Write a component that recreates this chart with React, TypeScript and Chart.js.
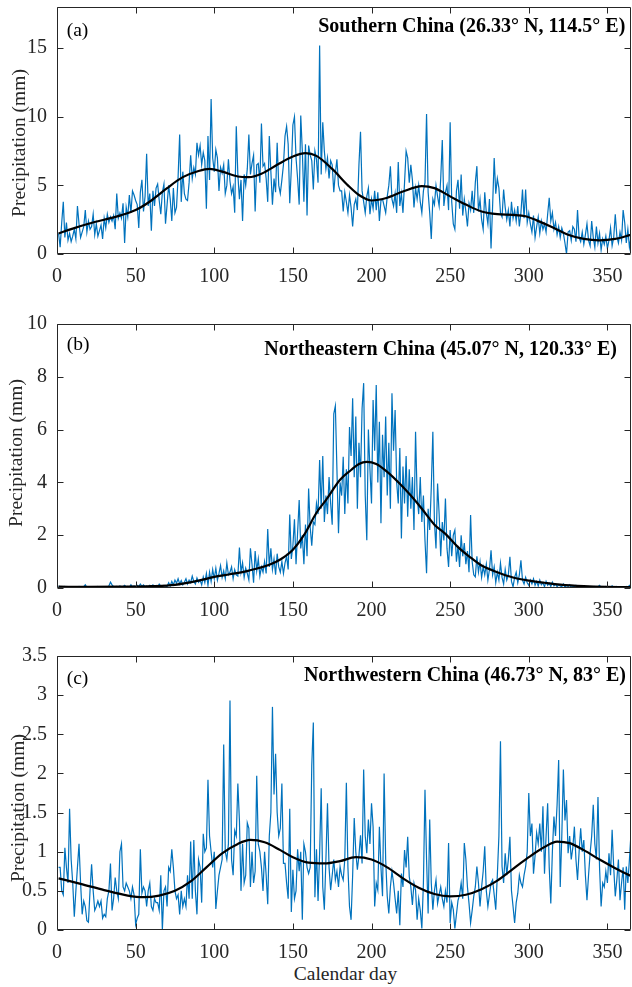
import React, { useEffect, useRef } from "react";
import { Chart, registerables } from "chart.js";

Chart.register(...registerables);

// ---------- data ----------
const dayCount = 365;
const calendarDays: number[] = Array.from({ length: dayCount }, (_, i) => i + 1);
const xTicks = [0, 50, 100, 150, 200, 250, 300, 350];

const southTicks = [0, 5, 10, 15];
const northeastTicks = [0, 2, 4, 6, 8, 10];
const northwestTicks = [0, 0.5, 1, 1.5, 2, 2.5, 3, 3.5];

// (a) Southern China daily precipitation
const southValues = [
  1.5, 0.5, 2.3, 3.8, 1.2, 2.3, 1.0, 1.5, 0.9, 1.3,
  1.8, 1.1, 3.5, 2.2, 1.2, 1.6, 2.0, 3.2, 1.6, 2.4,
  1.8, 2.0, 2.9, 1.4, 2.2, 1.3, 1.7, 2.1, 1.1, 2.6,
  1.9, 2.9, 2.3, 2.7, 2.4, 2.8, 1.8, 4.4, 2.6, 3.0,
  2.6, 3.7, 0.8, 3.4, 2.7, 4.3, 3.0, 4.6, 4.3, 3.9,
  3.6, 1.9, 4.5, 5.4, 3.1, 4.2, 7.3, 3.5, 4.4, 1.7,
  4.6, 3.5, 4.8, 5.1, 3.9, 2.9, 4.5, 5.1, 2.2, 3.6,
  5.0, 4.0, 2.4, 4.8, 3.0, 3.4, 5.6, 8.7, 3.8, 6.0,
  4.4, 4.0, 3.9, 5.2, 7.2, 5.5, 6.3, 5.8, 8.1, 7.2,
  7.9, 6.5, 7.4, 6.8, 3.3, 8.6, 5.4, 11.3, 7.0, 6.0,
  7.6, 7.0, 4.6, 6.3, 5.9, 6.5, 4.4, 5.0, 6.9, 5.3,
  4.4, 4.9, 3.0, 9.3, 5.8, 4.0, 5.4, 2.4, 5.8, 5.0,
  6.2, 8.7, 5.8, 6.6, 7.2, 3.1, 6.5, 6.6, 5.2, 9.5,
  6.4, 6.6, 5.5, 3.8, 8.6, 6.0, 3.6, 5.5, 4.5, 8.1,
  5.0, 4.4, 5.4, 6.5, 8.6, 9.3, 8.0, 3.7, 6.2, 9.4,
  10.0, 7.0, 5.5, 3.6, 10.1, 7.5, 3.8, 8.0, 2.8, 7.9,
  7.2, 6.8, 4.7, 7.5, 6.9, 5.2, 15.2, 5.8, 9.6, 7.5,
  6.2, 7.0, 5.5, 6.8, 6.5, 4.5, 5.9, 6.9, 5.0, 4.6,
  4.6, 3.1, 4.5, 3.8, 3.0, 4.3, 3.4, 2.0, 3.6, 4.0,
  3.2, 6.5, 8.9, 4.6, 3.8, 3.0, 4.2, 4.8, 2.9, 4.0,
  3.3, 4.6, 3.2, 4.5, 2.4, 3.9, 4.0, 3.5, 3.0, 4.2,
  5.0, 6.4, 4.0, 3.5, 4.4, 3.0, 6.7, 3.5, 4.4, 3.0,
  5.2, 7.5, 7.0, 5.2, 6.5, 5.4, 3.4, 4.8, 4.0, 5.0,
  3.8, 3.0, 4.6, 5.2, 10.2, 4.5, 3.0, 1.1, 4.0, 3.6,
  5.0, 4.2, 3.5, 5.5, 8.3, 3.5, 4.5, 5.0, 3.2, 9.6,
  3.8, 2.2, 1.8, 4.6, 5.4, 3.3, 5.8, 2.8, 4.0, 3.1,
  2.0, 3.7, 3.2, 4.6, 3.0, 5.2, 6.4, 3.1, 4.0, 2.5,
  1.8, 4.5, 3.0, 2.2, 4.0, 0.4, 3.5, 7.0, 4.4, 5.5,
  4.8, 3.0, 2.7, 4.7, 3.4, 2.5, 3.2, 2.0, 3.8, 2.6,
  3.2, 2.4, 3.5, 2.0, 3.0, 4.7, 2.6, 4.7, 2.3, 3.0,
  2.2, 1.6, 2.8, 1.2, 2.0, 2.7, 1.5, 2.4, 1.8, 2.2,
  1.6, 2.9, 4.1, 2.4, 3.0, 1.8, 2.3, 1.4, 2.0, 1.2,
  1.9, 1.5, 0.8, 0.0, 1.6, 1.7, 1.0, 2.0, 1.8, 0.9,
  3.2, 1.2, 0.9, 1.6, 0.7, 1.4, 2.2, 1.0, 0.6, 2.4,
  1.2, 0.5, 2.0, 0.8, 1.5, 0.3, 1.1, 0.7, 1.3, 0.4,
  1.0, 1.9, 0.6, 1.2, 2.9, 1.3, 0.8, 1.6, 1.0, 3.2,
  2.3, 0.8, 1.8, 0.5, 1.2,
];
const southSmoothDays = [1, 10, 20, 30, 40, 50, 60, 70, 80, 90, 97, 105, 115, 122, 130, 140, 150, 158, 165, 175, 185, 192, 200, 210, 220, 232, 240, 250, 260, 270, 280, 290, 298, 305, 315, 325, 335, 345, 355, 365];
const southSmoothValues = [1.5, 1.85, 2.2, 2.5, 2.8, 3.2, 3.9, 4.8, 5.6, 6.05, 6.2, 6.0, 5.65, 5.6, 5.85, 6.5, 7.1, 7.35, 7.15, 6.2, 5.0, 4.3, 3.9, 4.1, 4.55, 4.95, 4.8, 4.2, 3.6, 3.1, 2.9, 2.85, 2.75, 2.45, 1.95, 1.4, 1.1, 1.0, 1.1, 1.4];

// (b) Northeastern China daily precipitation
const northeastValues = [
  0.08, 0.04, 0.05, 0.02, 0.06, 0.03, 0.05, 0.02, 0.04, 0.03,
  0.05, 0.02, 0.04, 0.06, 0.03, 0.02, 0.05, 0.12, 0.03, 0.04,
  0.02, 0.05, 0.03, 0.04, 0.02, 0.06, 0.03, 0.05, 0.02, 0.04,
  0.05, 0.03, 0.08, 0.22, 0.12, 0.05, 0.03, 0.06, 0.04, 0.08,
  0.03, 0.05, 0.10, 0.04, 0.06, 0.03, 0.12, 0.05, 0.08, 0.04,
  0.10, 0.05, 0.15, 0.06, 0.12, 0.04, 0.08, 0.03, 0.10, 0.06,
  0.12, 0.05, 0.09, 0.04, 0.15, 0.07, 0.05, 0.10, 0.08, 0.06,
  0.20, 0.08, 0.25, 0.12, 0.30, 0.18, 0.35, 0.15, 0.28, 0.12,
  0.22, 0.35, 0.15, 0.30, 0.20, 0.45, 0.25, 0.15, 0.38, 0.22,
  0.30, 0.12, 0.42, 0.20, 0.55, 0.10, 0.60, 0.25, 0.70, 0.35,
  0.75, 0.30, 0.55, 0.85, 0.40, 0.65, 0.35, 0.95, 0.50, 0.60,
  0.80, 0.35, 0.70, 0.50, 0.45, 1.53, 0.60, 0.95, 0.40, 0.75,
  0.55, 0.30, 1.50, 0.90, 0.20, 1.40, 0.65, 1.10, 0.45, 0.80,
  0.60, 1.00, 0.55, 2.23, 0.80, 1.50, 0.70, 1.10, 0.50, 1.30,
  0.80, 0.60, 1.00, 0.55, 0.95, 1.20, 0.70, 2.78, 1.10, 1.60,
  2.60, 0.90, 2.10, 3.33, 1.50, 2.00, 0.90, 2.40, 1.20, 3.77,
  2.30, 1.60, 2.50, 2.40, 3.20, 2.80, 4.85, 3.00, 5.00, 2.50,
  3.50, 2.80, 4.20, 3.20, 2.40, 6.60, 6.90, 4.50, 2.07, 4.00,
  3.50, 4.97, 2.80, 4.50, 3.20, 6.10, 5.00, 7.19, 4.20, 6.50,
  3.00, 5.50, 4.20, 6.80, 7.76, 3.50, 1.81, 6.00, 4.50, 3.20,
  7.12, 5.20, 7.69, 4.00, 6.30, 2.45, 5.80, 4.20, 6.50, 3.50,
  5.50, 3.00, 7.38, 5.20, 6.74, 4.00, 3.20, 5.30, 1.88, 4.60,
  3.20, 5.00, 2.70, 4.50, 3.00, 4.20, 2.20, 5.92, 3.50, 2.80,
  4.20, 2.50, 3.50, 1.80, 0.56, 3.00, 2.20, 3.80, 5.92, 2.50,
  1.50, 3.96, 2.80, 1.20, 2.50, 1.80, 3.39, 1.50, 0.80, 2.20,
  1.20, 2.00, 2.19, 1.00, 1.60, 0.80, 2.00, 1.20, 1.70, 0.90,
  1.40, 0.60, 2.76, 1.00, 0.50, 0.42, 1.20, 0.60, 1.00, 0.40,
  0.80, 0.50, 0.90, 0.30, 0.70, 1.43, 0.50, 0.80, 0.20, 0.60,
  0.30, 0.94, 0.40, 0.15, 0.70, 0.30, 0.50, 1.18, 0.25, 0.05,
  0.40, 0.60, 0.20, 0.50, 1.05, 0.30, 0.15, 0.40, 0.20, 0.10,
  0.30, 0.15, 0.35, 0.10, 0.25, 0.08, 0.30, 0.12, 0.20, 0.05,
  0.25, 0.10, 0.18, 0.06, 0.22, 0.08, 0.15, 0.05, 0.12, 0.08,
  0.05, 0.15, 0.03, 0.10, 0.06, 0.12, 0.02, 0.08, 0.04, 0.10,
  0.03, 0.06, 0.02, 0.08, 0.04, 0.05, 0.02, 0.06, 0.03, 0.05,
  0.02, 0.06, 0.03, 0.05, 0.10, 0.02, 0.04, 0.03, 0.06, 0.02,
  0.05, 0.03, 0.08, 0.02, 0.04, 0.06, 0.03, 0.05, 0.02, 0.04,
  0.03, 0.06, 0.02, 0.10, 0.04,
];
const northeastSmoothDays = [1, 20, 40, 60, 75, 90, 100, 110, 122, 135, 142, 150, 157, 165, 171, 180, 187, 192, 197, 203, 210, 218, 225, 232, 240, 247, 255, 262, 270, 280, 290, 300, 310, 320, 335, 350, 365];
const northeastSmoothValues = [0.05, 0.04, 0.05, 0.07, 0.12, 0.28, 0.42, 0.52, 0.66, 0.88, 1.08, 1.45, 2.0, 2.85, 3.33, 4.1, 4.47, 4.7, 4.78, 4.7, 4.4, 3.95, 3.5, 3.0, 2.4, 2.05, 1.55, 1.2, 0.85, 0.6, 0.4, 0.28, 0.2, 0.13, 0.07, 0.04, 0.03];

// (c) Northwestern China daily precipitation
const northwestValues = [
  0.80, 0.80, 0.50, 0.45, 1.05, 0.80, 0.60, 1.55, 0.90, 0.60,
  0.17, 0.50, 0.80, 1.10, 0.60, 0.20, 0.37, 0.30, 0.12, 0.10,
  0.50, 0.84, 0.50, 0.25, 0.30, 0.37, 0.30, 0.37, 0.15, 0.20,
  0.17, 0.40, 0.50, 0.85, 0.25, 0.40, 0.67, 0.50, 0.40, 1.00,
  1.10, 0.55, 0.50, 0.60, 0.55, 0.50, 0.40, 0.55, 0.45, 0.07,
  0.15, 0.20, 1.03, 0.47, 0.55, 0.50, 0.30, 0.50, 0.60, 0.30,
  0.25, 0.40, 0.35, 0.35, 0.25, 0.70, 0.00, 0.50, 0.55, 0.30,
  0.80, 0.75, 1.03, 0.80, 0.50, 0.40, 0.45, 0.20, 0.50, 0.30,
  0.40, 0.30, 0.70, 0.40, 1.13, 0.40, 1.15, 0.50, 0.20, 0.90,
  0.80, 0.35, 1.23, 1.00, 1.05, 1.92, 1.20, 1.00, 0.80, 1.00,
  0.27, 0.50, 0.70, 0.80, 0.90, 2.37, 1.00, 0.90, 1.10, 2.93,
  0.90, 0.70, 1.27, 1.20, 1.87, 1.40, 0.50, 1.10, 0.60, 0.70,
  1.37, 1.30, 0.55, 1.00, 0.60, 0.75, 1.97, 1.10, 1.00, 0.80,
  0.50, 1.00, 0.70, 0.33, 1.20, 1.50, 2.85, 1.73, 2.25, 1.50,
  1.20, 1.30, 1.87, 0.85, 0.85, 0.60, 0.40, 1.55, 0.23, 0.77,
  0.40, 0.50, 1.03, 0.75, 1.00, 0.13, 1.10, 1.00, 0.80, 0.72,
  0.80, 2.10, 2.65, 0.42, 1.03, 0.37, 0.98, 1.81, 0.55, 0.26,
  0.90, 1.62, 0.80, 0.51, 0.70, 0.90, 0.64, 0.75, 0.55, 0.81,
  0.70, 0.64, 0.90, 1.88, 0.80, 0.30, 0.13, 0.70, 1.43, 1.00,
  0.77, 0.95, 1.21, 0.85, 2.05, 1.20, 0.98, 1.41, 1.10, 1.62,
  1.32, 0.30, 0.60, 0.51, 1.32, 0.80, 0.43, 2.00, 0.90, 0.43,
  0.21, 0.55, 0.75, 0.60, 0.40, 0.21, 0.50, 0.06, 0.72, 0.55,
  1.02, 0.80, 1.19, 0.68, 0.55, 0.32, 0.60, 0.51, 0.13, 0.40,
  0.25, 0.02, 0.60, 1.79, 0.90, 0.21, 1.41, 0.60, 0.26, 0.50,
  0.64, 0.34, 0.45, 0.55, 0.40, 0.30, 0.50, 0.35, 1.11, 0.09,
  0.35, 0.26, 0.02, 0.20, 0.38, 0.45, 0.60, 0.40, 1.11, 0.90,
  0.55, 0.34, 0.09, 0.25, 0.43, 0.55, 0.81, 0.60, 0.30, 0.55,
  0.75, 1.07, 0.50, 0.30, 0.45, 0.60, 0.64, 0.45, 0.26, 0.70,
  1.20, 2.41, 0.81, 0.60, 0.98, 0.70, 0.90, 1.19, 0.50, 0.30,
  0.09, 0.35, 0.47, 0.70, 0.60, 0.55, 0.70, 0.81, 1.00, 1.75,
  1.20, 1.36, 0.72, 0.95, 1.24, 1.10, 1.36, 1.00, 1.58, 0.72,
  1.20, 1.62, 0.80, 0.34, 1.00, 1.45, 1.20, 1.60, 2.17, 0.55,
  1.20, 2.05, 1.40, 1.66, 0.98, 1.20, 0.90, 1.05, 1.32, 0.90,
  0.64, 1.00, 1.30, 1.00, 1.15, 0.70, 0.38, 0.70, 0.98, 1.20,
  1.60, 1.10, 0.90, 1.70, 0.80, 0.30, 0.60, 0.55, 0.75, 0.60,
  0.98, 0.70, 1.28, 0.80, 0.43, 0.64, 0.90, 0.38, 0.60, 0.80,
  0.26, 0.81, 0.60, 0.90, 1.24,
];
const northwestSmoothDays = [1, 15, 30, 45, 55, 65, 75, 85, 95, 105, 115, 123, 132, 142, 150, 160, 170, 180, 190, 200, 210, 220, 230, 240, 250, 260, 270, 280, 290, 300, 310, 318, 326, 335, 345, 355, 365];
const northwestSmoothValues = [0.66, 0.59, 0.51, 0.44, 0.42, 0.44, 0.5, 0.62, 0.8, 0.98, 1.1, 1.15, 1.12, 1.02, 0.93, 0.86, 0.85, 0.88, 0.93, 0.9, 0.8, 0.66, 0.54, 0.46, 0.43, 0.45, 0.52, 0.63, 0.78, 0.93, 1.06, 1.13, 1.11, 1.02, 0.9, 0.79, 0.69];

// ---------- style ----------
const SERIF = '"Liberation Serif", "Times New Roman", serif';
const AXIS_COLOR = "#262626";
const TICK_FONT_SIZE = 20;
const LABEL_FONT_SIZE = 19.5;
const TITLE_FONT_SIZE = 20;

const boxPlugin = {
  id: "boxTicks",
  afterDraw(chart: any) {
    const { ctx, chartArea, scales } = chart;
    const { left, right, top, bottom } = chartArea;
    const L = Math.round(left) + 0.5;
    const R = Math.round(right) - 0.5;
    const T = Math.round(top) + 0.5;
    const B = Math.round(bottom) - 0.5;
    const len = 6;
    ctx.save();
    ctx.strokeStyle = AXIS_COLOR;
    ctx.lineWidth = 1;
    ctx.beginPath();
    ctx.rect(L, T, R - L, B - T);
    for (const t of scales.x.ticks) {
      const px = Math.round(scales.x.getPixelForValue(t.value)) + 0.5;
      ctx.moveTo(px, B);
      ctx.lineTo(px, B - len);
      ctx.moveTo(px, T);
      ctx.lineTo(px, T + len);
    }
    for (const t of scales.y.ticks) {
      const py = Math.round(scales.y.getPixelForValue(t.value)) + 0.5;
      ctx.moveTo(L, py);
      ctx.lineTo(L + len, py);
      ctx.moveTo(R, py);
      ctx.lineTo(R - len, py);
    }
    ctx.stroke();
    ctx.restore();
  },
};

type PanelProps = {
  top: number;
  height: number;
  padTop: number;
  yMax: number;
  yTicks: number[];
  values: number[];
  smoothDays: number[];
  smoothValues: number[];
};

function Panel({ top, height, padTop, yMax, yTicks, values, smoothDays, smoothValues }: PanelProps) {
  const ref = useRef<HTMLCanvasElement>(null);
  useEffect(() => {
    if (!ref.current) return;
    const tickFont = { family: SERIF, size: TICK_FONT_SIZE };
    const chart = new Chart(ref.current, {
      type: "line",
      data: {
        datasets: [
          {
            data: smoothDays.map((d, i) => ({ x: d, y: smoothValues[i] })),
            borderColor: "#000000",
            borderWidth: 2.2,
            pointRadius: 0,
            cubicInterpolationMode: "monotone",
            fill: false,
          },
          {
            data: calendarDays.map((d, i) => ({ x: d, y: values[i] })),
            borderColor: "#0072BD",
            borderWidth: 1.2,
            pointRadius: 0,
            tension: 0,
            fill: false,
          },
        ],
      },
      options: {
        responsive: false,
        animation: false,
        events: [],
        layout: { padding: { left: 0, right: 1, top: padTop, bottom: 0 } },
        plugins: { legend: { display: false }, tooltip: { enabled: false }, title: { display: false } },
        scales: {
          x: {
            type: "linear",
            min: 0,
            max: dayCount,
            grid: { display: false, drawTicks: false },
            border: { display: false },
            afterBuildTicks: (s: any) => {
              s.ticks = xTicks.map((v) => ({ value: v }));
            },
            afterFit: (s: any) => {
              s.height = 30;
              s.paddingLeft = 0;
              s.paddingRight = 0;
            },
            ticks: {
              font: tickFont,
              color: AXIS_COLOR,
              padding: 11,
              maxRotation: 0,
              autoSkip: false,
              callback: (v: any) => String(v),
            },
          },
          y: {
            type: "linear",
            min: 0,
            max: yMax,
            grid: { display: false, drawTicks: false },
            border: { display: false },
            afterBuildTicks: (s: any) => {
              s.ticks = yTicks.map((v) => ({ value: v }));
            },
            afterFit: (s: any) => {
              s.width = 57;
              s.paddingTop = 0;
              s.paddingBottom = 0;
            },
            ticks: {
              font: tickFont,
              color: AXIS_COLOR,
              padding: 10,
              autoSkip: false,
              callback: (v: any) => String(v),
            },
          },
        },
      },
      plugins: [boxPlugin],
    } as any);
    return () => chart.destroy();
  }, []);
  return (
    <canvas
      ref={ref}
      width={632}
      height={height}
      style={{ position: "absolute", left: 0, top, width: 632, height, display: "block" }}
    />
  );
}

const textBase: React.CSSProperties = {
  position: "absolute",
  fontFamily: SERIF,
  fontSize: LABEL_FONT_SIZE,
  lineHeight: 1,
  whiteSpace: "nowrap",
};

const titleStyle: React.CSSProperties = {
  ...textBase,
  fontSize: TITLE_FONT_SIZE,
  fontWeight: "bold",
  color: "#000",
};

function YTitle({ cx, cy }: { cx: number; cy: number }) {
  return (
    <div
      style={{
        ...textBase,
        left: cx,
        top: cy,
        color: AXIS_COLOR,
        transform: "translate(-50%, -50%) rotate(-90deg)",
      }}
    >
      Precipitation (mm)
    </div>
  );
}

export default function App() {
  return (
    <div style={{ position: "absolute", left: 0, top: 0, width: 632, height: 987, background: "#fff", overflow: "hidden" }}>
      <Panel top={0} height={284} padTop={7} yMax={18} yTicks={southTicks} values={southValues} smoothDays={southSmoothDays} smoothValues={southSmoothValues} />
      <Panel top={290} height={328} padTop={34} yMax={10} yTicks={northeastTicks} values={northeastValues} smoothDays={northeastSmoothDays} smoothValues={northeastSmoothValues} />
      <Panel top={620} height={340} padTop={36} yMax={3.5} yTicks={northwestTicks} values={northwestValues} smoothDays={northwestSmoothDays} smoothValues={northwestSmoothValues} />

      <div style={{ ...textBase, left: 66.7, top: 19.7, color: "#000" }}>(a)</div>
      <div style={{ ...titleStyle, right: 6.7, top: 15.0 }}>Southern China (26.33° N, 114.5° E)</div>
      <div style={{ ...textBase, left: 66.7, top: 334.4, color: "#000" }}>(b)</div>
      <div style={{ ...titleStyle, right: 15, top: 338.3 }}>Northeastern China (45.07° N, 120.33° E)</div>
      <div style={{ ...textBase, left: 66.7, top: 667.7, color: "#000" }}>(c)</div>
      <div style={{ ...titleStyle, right: 6, top: 664.3 }}>Northwestern China (46.73° N, 83° E)</div>

      <YTitle cx={19} cy={142.5} />
      <YTitle cx={15.7} cy={453} />
      <YTitle cx={17.5} cy={808} />

      <div style={{ ...textBase, left: 345.5, top: 964.4, color: AXIS_COLOR, transform: "translateX(-50%)" }}>Calendar day</div>
    </div>
  );
}
